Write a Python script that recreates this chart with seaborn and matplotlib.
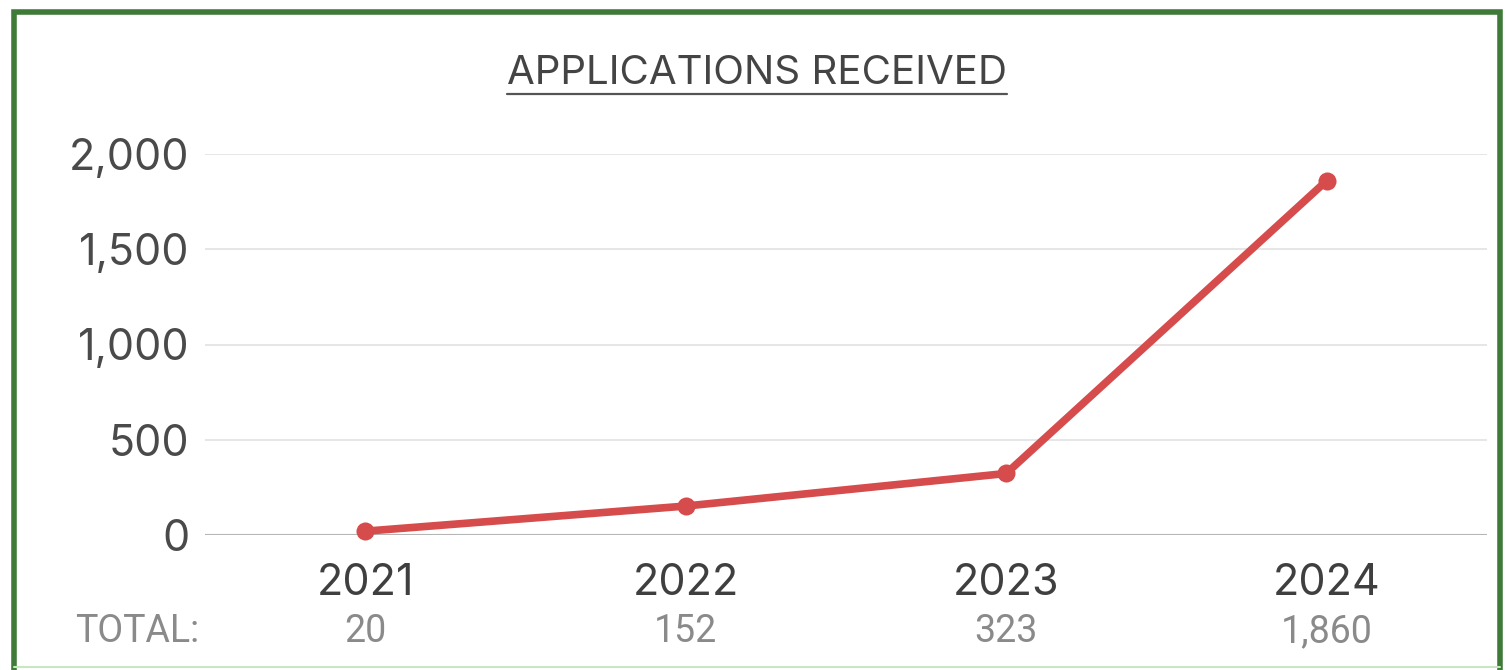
import matplotlib
matplotlib.use("Agg")
import matplotlib.pyplot as plt
import seaborn as sns
import pandas as pd
from matplotlib.lines import Line2D
from matplotlib.patches import Rectangle
import matplotlib.transforms as mtransforms

years = ["2021", "2022", "2023", "2024"]
applications = [20, 152, 323, 1860]
total_labels = ["20", "152", "323", "1,860"]
y_ticks = [0, 500, 1000, 1500, 2000]
y_tick_labels = ["0", "500", "1,000", "1,500", "2,000"]
title = "APPLICATIONS RECEIVED"

sns.set_theme(style="white")
plt.rcParams["font.family"] = ["Inter", "DejaVu Sans"]

W, H = 1509, 670
fig = plt.figure(figsize=(W / 100, H / 100), dpi=100)
fig.patch.set_facecolor("white")

ax = fig.add_axes([205 / W, (H - 535) / H, (1487 - 205) / W, (535 - 154) / H])
df = pd.DataFrame({"year": years, "applications": applications})
sns.lineplot(data=df, x="year", y="applications", ax=ax, color="#d64b4b",
             linewidth=5.5, marker="o", markersize=13, markeredgewidth=0,
             clip_on=False, zorder=5)

ax.set_xlim(-0.5, 3.5)
ax.set_ylim(0, 2000)
ax.set_yticks(y_ticks)
ax.set_yticklabels(y_tick_labels)
ax.set_xlabel("")
ax.set_ylabel("")
for s in ax.spines.values():
    s.set_visible(False)
ax.grid(axis="y", color="#e4e4e4", linewidth=1.3)
ax.grid(axis="x", visible=False)
ax.axhline(0, color="#b5b5b5", linewidth=1.5, zorder=2)
ax.tick_params(axis="y", length=0, pad=11, labelsize=31, labelcolor="#4a4a4a")
ax.tick_params(axis="x", length=0, pad=20, labelsize=31, labelcolor="#3f3f3f")

# totals row
trans = mtransforms.blended_transform_factory(ax.transData, fig.transFigure)
ty = (H - 632) / H
for i, lab in enumerate(total_labels):
    ax.text(i, ty, lab, transform=trans, ha="center", va="center",
            fontsize=27, color="#8a8a8a", family=["Roboto", "DejaVu Sans"])
fig.text(75 / W, ty, "TOTAL:", ha="left", va="center", fontsize=27,
         color="#8a8a8a", family=["Roboto", "DejaVu Sans"])

# title with underline
t = fig.text(757 / W, (H - 74) / H, title, ha="center", va="center",
             fontsize=29, color="#444444")
fig.canvas.draw()
bb = t.get_window_extent(renderer=fig.canvas.get_renderer())
uy = (H - 94) / H
fig.add_artist(Line2D([bb.x0 / W, bb.x1 / W], [uy, uy], color="#555555",
                      linewidth=1.6, transform=fig.transFigure))

# green frame
fig.add_artist(Rectangle((14 / W, -10 / H), (1500 - 14) / W, (H - 12 + 10) / H,
                         transform=fig.transFigure, fill=False,
                         edgecolor="#3f7a38", linewidth=4))
fig.add_artist(Line2D([14 / W, 1500 / W], [(H - 667) / H, (H - 667) / H],
                      color="#c8e6c0", linewidth=1.5, transform=fig.transFigure))

fig.savefig("out.png", dpi=100, facecolor="white")
